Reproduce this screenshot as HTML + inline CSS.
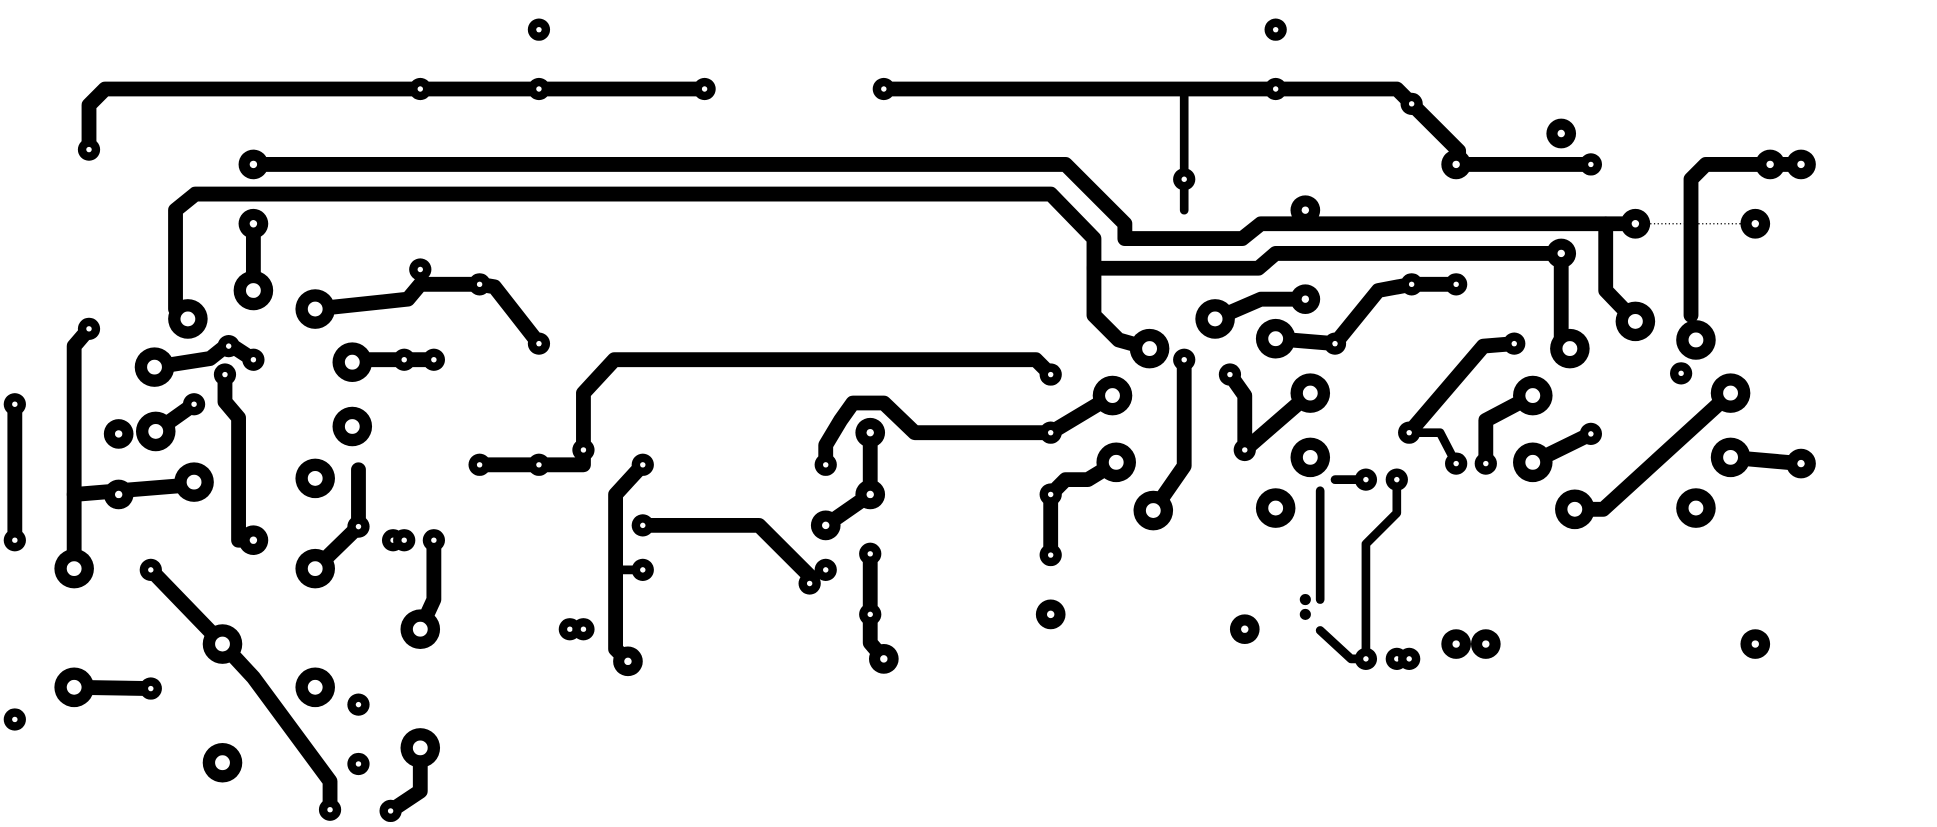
<!DOCTYPE html>
<html><head><meta charset="utf-8"><style>
html,body{margin:0;padding:0;background:#fff;width:1937px;height:827px;overflow:hidden}
svg{display:block}
.t{fill:none;stroke:#000;stroke-width:12;stroke-linejoin:round;stroke-linecap:round}
.n{fill:none;stroke:#000;stroke-width:7;stroke-linejoin:round;stroke-linecap:round}
</style></head><body>
<svg width="1937" height="827" viewBox="0 0 1567 669" preserveAspectRatio="none" xmlns="http://www.w3.org/2000/svg">
<defs>
<g id="L"><circle r="16" fill="#000"/><circle r="6" fill="#fff"/></g>
<g id="M"><circle r="12" fill="#000"/><circle r="3" fill="#fff"/></g>
<g id="S"><circle r="9" fill="#000"/><circle r="2.2" fill="#fff"/></g>
</defs>
<g class="t">
<polyline points="72,121 72,85 85,72 570,72"/>
<polyline points="715,72 1130,72 1142,84 1180,122 1180,133 1287,133"/>
<polyline points="205,133 862,133 910,181 910,193 1005,193 1020,181 1323,181"/>
<polyline points="142,250 142,170 158,157 850,157 885,193 885,255 905,275 930,282"/>
<polyline points="885,217 1018,217 1032,205 1263,205 1263,282 1270,282"/>
<polyline points="1299,181 1299,235 1323,260"/>
<polyline points="1368,255 1368,145 1380,133 1457,133"/>
<polyline points="472,364 472,318 497,291 838,291 850,303"/>
<polyline points="668,376 668,360 680,340 690,326 715,326 740,350 850,350 900,320"/>
<polyline points="255,250 330,242 340,230 388,230 400,232 436,278"/>
<polyline points="12,327 12,437"/>
<polyline points="72,266 60,280 60,460"/>
<polyline points="60,400 157,392"/>
<polyline points="122,461 180,521 205,548 267,632 267,655"/>
<polyline points="60,556 122,557"/>
<polyline points="388,376 472,376 472,364"/>
<polyline points="520,376 498,400 498,525 508,535"/>
<polyline points="520,425 614,425 655,466"/>
<polyline points="704,350 704,400 668,425"/>
<polyline points="704,448 704,520 715,533"/>
<polyline points="850,449 850,400 862,388 880,388 903,374"/>
<polyline points="958,291 958,377 933,413"/>
<polyline points="1032,274 1080,278 1115,235 1142,230 1178,230"/>
<polyline points="1274,412 1297,412 1400,318"/>
<polyline points="1400,370 1457,375"/>
<polyline points="1140,350 1200,280 1225,278"/>
<polyline points="1202,375 1202,340 1240,320"/>
<polyline points="1240,374 1287,351"/>
<polyline points="995,303 1007,320 1007,364 1060,318"/>
<polyline points="983,258 1020,242 1056,242"/>
<polyline points="182,303 182,325 193,338 193,437 205,437"/>
<polyline points="285,291 351,291"/>
<polyline points="255,460 290,426 290,380"/>
<polyline points="351,437 351,485 340,509"/>
<polyline points="340,605 340,640 316,656"/>
<polyline points="125,297 170,290 185,278 205,291"/>
<polyline points="126,349 157,327"/>
<polyline points="205,181 205,235"/>
</g>
<g class="n">
<polyline points="958,72 958,170"/>
<polyline points="1140,350 1165,350 1178,375"/>
<polyline points="1080,388 1105,388"/>
<polyline points="1068,397 1068,485"/>
<polyline points="1068,510 1093,533 1105,533"/>
<polyline points="1130,388 1130,415 1105,440 1105,533"/>
<polyline points="520,461 498,461"/>
</g>
<line x1="1323" y1="181" x2="1420" y2="181" stroke="#000" stroke-width="1" stroke-dasharray="1,2"/>
<use href="#S" x="72" y="121"/><use href="#S" x="340" y="72"/><use href="#S" x="436" y="72"/><use href="#S" x="570" y="72"/><use href="#S" x="436" y="24"/>
<use href="#S" x="715" y="72"/><use href="#S" x="1032" y="72"/><use href="#S" x="1032" y="24"/><use href="#S" x="1142" y="84"/><use href="#S" x="958" y="145"/>
<use href="#M" x="1178" y="133"/><use href="#S" x="1287" y="133"/><use href="#M" x="1263" y="108"/>
<use href="#M" x="205" y="133"/><use href="#M" x="1323" y="181"/><use href="#M" x="1056" y="170"/><use href="#M" x="1420" y="181"/>
<use href="#L" x="152" y="258"/><use href="#L" x="930" y="282"/><use href="#M" x="1263" y="205"/><use href="#L" x="1270" y="282"/>
<use href="#L" x="1323" y="260"/><use href="#M" x="1432" y="133"/><use href="#M" x="1457" y="133"/><use href="#L" x="1372" y="275"/><use href="#S" x="1360" y="302"/>
<use href="#M" x="205" y="181"/><use href="#L" x="205" y="235"/>
<use href="#L" x="255" y="250"/><use href="#S" x="340" y="218"/><use href="#S" x="388" y="230"/><use href="#S" x="436" y="278"/>
<use href="#L" x="125" y="297"/><use href="#S" x="205" y="291"/><use href="#S" x="185" y="280"/>
<use href="#S" x="72" y="266"/><use href="#L" x="60" y="460"/><use href="#M" x="96" y="400"/><use href="#L" x="157" y="390"/>
<use href="#S" x="12" y="327"/><use href="#S" x="12" y="437"/>
<use href="#L" x="126" y="349"/><use href="#S" x="157" y="327"/><use href="#M" x="96" y="351"/>
<use href="#S" x="182" y="303"/><use href="#M" x="205" y="437"/>
<use href="#L" x="285" y="293"/><use href="#S" x="327" y="291"/><use href="#S" x="351" y="291"/>
<use href="#L" x="285" y="345"/><use href="#L" x="255" y="387"/><use href="#L" x="255" y="460"/><use href="#S" x="290" y="426"/>
<use href="#S" x="318" y="437"/><use href="#S" x="327" y="437"/><use href="#S" x="351" y="437"/><use href="#L" x="340" y="509"/>
<use href="#S" x="122" y="461"/><use href="#L" x="180" y="521"/><use href="#S" x="267" y="655"/>
<use href="#L" x="60" y="556"/><use href="#S" x="122" y="557"/>
<use href="#L" x="255" y="556"/><use href="#S" x="290" y="570"/><use href="#L" x="180" y="617"/><use href="#S" x="290" y="618"/><use href="#L" x="340" y="605"/><use href="#S" x="316" y="656"/><use href="#S" x="12" y="582"/>
<use href="#S" x="388" y="376"/><use href="#S" x="436" y="376"/><use href="#S" x="472" y="364"/><use href="#S" x="850" y="303"/>
<use href="#S" x="520" y="376"/><use href="#S" x="520" y="461"/><use href="#M" x="508" y="535"/><use href="#S" x="461" y="509"/><use href="#S" x="472" y="509"/>
<use href="#S" x="520" y="425"/><use href="#S" x="655" y="472"/><use href="#S" x="668" y="461"/>
<use href="#S" x="668" y="376"/><use href="#S" x="850" y="350"/><use href="#L" x="900" y="320"/>
<use href="#M" x="704" y="350"/><use href="#M" x="704" y="400"/><use href="#M" x="668" y="425"/>
<use href="#S" x="704" y="448"/><use href="#S" x="704" y="497"/><use href="#M" x="715" y="533"/>
<use href="#S" x="850" y="449"/><use href="#S" x="850" y="400"/><use href="#L" x="903" y="374"/><use href="#M" x="850" y="497"/>
<use href="#S" x="958" y="291"/><use href="#L" x="933" y="413"/>
<use href="#L" x="983" y="258"/><use href="#M" x="1056" y="242"/>
<use href="#L" x="1032" y="274"/><use href="#S" x="1080" y="278"/><use href="#S" x="1142" y="230"/><use href="#S" x="1178" y="230"/>
<use href="#S" x="995" y="303"/><use href="#S" x="1007" y="364"/><use href="#L" x="1060" y="318"/>
<use href="#L" x="1060" y="370"/><use href="#L" x="1032" y="411"/><use href="#S" x="1105" y="388"/><use href="#S" x="1130" y="388"/>
<use href="#S" x="1105" y="533"/><use href="#S" x="1130" y="533"/><use href="#S" x="1140" y="533"/>
<circle cx="1056" cy="485" r="4.5" fill="#000"/><circle cx="1056" cy="497" r="4.5" fill="#000"/>
<use href="#S" x="1140" y="350"/><use href="#S" x="1225" y="278"/><use href="#S" x="1178" y="375"/><use href="#S" x="1202" y="375"/><use href="#L" x="1240" y="320"/>
<use href="#L" x="1240" y="374"/><use href="#S" x="1287" y="351"/>
<use href="#L" x="1274" y="412"/><use href="#L" x="1400" y="318"/><use href="#L" x="1400" y="370"/><use href="#M" x="1457" y="375"/>
<use href="#L" x="1372" y="411"/><use href="#M" x="1420" y="521"/><use href="#M" x="1007" y="509"/><use href="#M" x="1178" y="521"/><use href="#M" x="1202" y="521"/>
</svg>
</body></html>
